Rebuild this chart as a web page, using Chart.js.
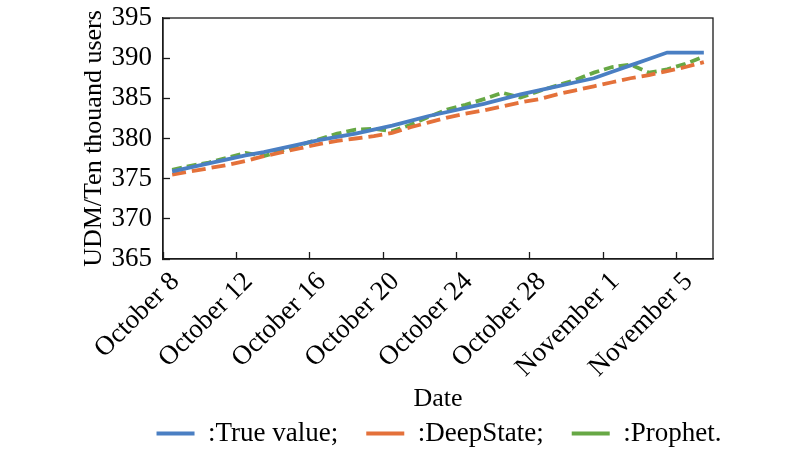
<!DOCTYPE html>
<html>
<head>
<meta charset="utf-8">
<script src="https://cdn.jsdelivr.net/npm/chart.js@4.4.1/dist/chart.umd.min.js"></script>
<style>
html,body{margin:0;padding:0;background:#ffffff;}
#wrap{width:800px;height:457px;position:relative;}
</style>
</head>
<body>
<div id="wrap"><canvas id="c"></canvas></div>
<script>
const categories = [
  'October 8','October 9','October 10','October 11','October 12','October 13','October 14','October 15',
  'October 16','October 17','October 18','October 19','October 20','October 21','October 22','October 23',
  'October 24','October 25','October 26','October 27','October 28','October 29','October 30','October 31',
  'November 1','November 2','November 3','November 4','November 5','November 6'
];
const trueValue = [375.9, 376.4, 376.9, 377.4, 377.9, 378.3, 378.8, 379.3, 379.8, 380.2,
                   380.6, 381.1, 381.6, 382.2, 382.8, 383.3, 383.8, 384.3, 384.9, 385.5,
                   386.0, 386.5, 387.0, 387.5, 388.3, 389.1, 389.9, 390.7, 390.7, 390.7];
const deepState = [375.5, 375.9, 376.3, 376.7, 377.2, 377.8, 378.3, 378.8, 379.3, 379.7,
                   380.0, 380.3, 380.7, 381.4, 382.0, 382.6, 383.1, 383.5, 384.0, 384.5,
                   384.9, 385.5, 386.0, 386.5, 387.0, 387.5, 387.9, 388.4, 388.9, 389.5];
const prophet   = [376.1, 376.6, 377.0, 377.6, 378.2, 377.8, 378.5, 379.2, 379.9, 380.6,
                   381.1, 381.2, 380.9, 381.7, 382.7, 383.6, 384.2, 384.9, 385.7, 385.1,
                   385.9, 386.6, 387.3, 388.2, 388.9, 389.2, 388.2, 388.6, 389.3, 390.2];
const seriesNames = [':True value;', ':DeepState;', ':Prophet.'];
const yMin = 365, yMax = 395, yStep = 5;
const labelEvery = 4;
const xTitle = 'Date';
const yTitle = 'UDM/Ten thouand users';

const SERIF = "'Liberation Serif','Times New Roman',serif";
const AXIS = '#1a1a1a';

const framePlugin = {
  id: 'frame',
  beforeDatasetsDraw(chart) {
    const {ctx, chartArea: a} = chart;
    ctx.save();
    ctx.strokeStyle = AXIS;
    ctx.lineWidth = 1.3;
    ctx.strokeRect(a.left, a.top, a.right - a.left, a.bottom - a.top);
    ctx.restore();
  }
};

function noPad(s) { s.paddingTop = 0; s.paddingBottom = 0; s.paddingLeft = 0; s.paddingRight = 0; }

new Chart(document.getElementById('c'), {
  type: 'line',
  data: {
    labels: categories,
    datasets: [
      {label: seriesNames[0], data: trueValue, borderColor: '#4A7FC3', backgroundColor: '#4A7FC3',
       borderWidth: 3.8, pointRadius: 0, pointStyle: 'line', tension: 0, fill: false},
      {label: seriesNames[1], data: deepState, borderColor: '#E4713A', backgroundColor: '#E4713A',
       borderWidth: 3.8, borderDash: [14, 6], pointRadius: 0, pointStyle: 'line', tension: 0, fill: false},
      {label: seriesNames[2], data: prophet, borderColor: '#67A845', backgroundColor: '#67A845',
       borderWidth: 3.8, borderDash: [10, 5], pointRadius: 0, pointStyle: 'line', tension: 0, fill: false}
    ]
  },
  options: {
    responsive: true,
    maintainAspectRatio: false,
    animation: false,
    devicePixelRatio: 1,
    layout: {padding: {left: 78, right: 0, top: 18, bottom: 0}},
    plugins: {
      tooltip: {enabled: false},
      legend: {
        position: 'bottom',
        fullSize: true,
        labels: {
          usePointStyle: true,
          pointStyleWidth: 38,
          boxWidth: 38,
          padding: 28,
          color: '#000',
          font: {family: SERIF, size: 27}
        }
      }
    },
    scales: {
      x: {
        type: 'category',
        offset: true,
        afterFit(s) { s.height = 392 - 259; noPad(s); },
        grid: {
          display: true,
          drawOnChartArea: false,
          offset: true,
          tickLength: -7,
          tickWidth: 1.3,
          tickColor: (c) => (c.index % labelEvery === 0 ? AXIS : 'rgba(0,0,0,0)')
        },
        border: {display: true, color: AXIS, width: 1.3},
        ticks: {
          autoSkip: false,
          maxRotation: 45,
          minRotation: 45,
          padding: 14,
          labelOffset: 3,
          color: '#000',
          font: {family: SERIF, size: 27},
          callback: (v, i) => (i % labelEvery === 0 ? categories[i] : '')
        },
        title: {display: true, text: xTitle, color: '#000', font: {family: SERIF, size: 26}, padding: {top: 0, bottom: -23}}
      },
      y: {
        min: yMin,
        max: yMax,
        afterFit(s) { s.width = 163 - 78; noPad(s); },
        grid: {display: true, drawOnChartArea: false, tickLength: -7, tickWidth: 1.3, tickColor: AXIS},
        border: {display: true, color: AXIS, width: 1.3},
        ticks: {stepSize: yStep, padding: 18, color: '#000', font: {family: SERIF, size: 27}},
        title: {display: true, text: yTitle, color: '#000', font: {family: SERIF, size: 26}, padding: {top: 1, bottom: 0}}
      },
      y2: {
        position: 'right',
        display: true,
        min: yMin,
        max: yMax,
        afterFit(s) { s.width = 800 - 713; noPad(s); },
        grid: {display: false},
        border: {display: false},
        ticks: {display: false}
      }
    }
  },
  plugins: [framePlugin]
});
</script>
</body>
</html>
